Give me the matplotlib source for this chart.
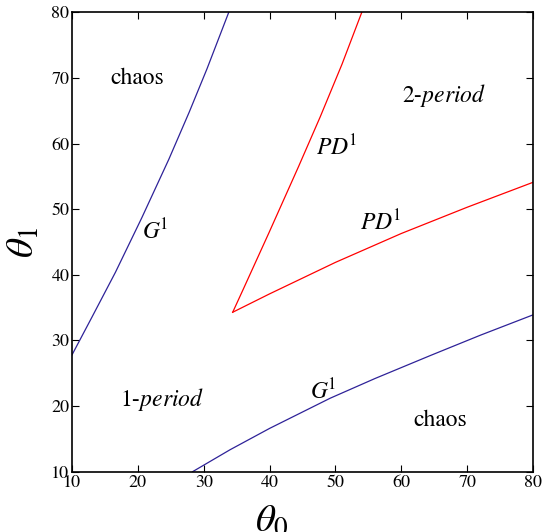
import numpy as np
import matplotlib.pyplot as plt

plt.rcParams['font.family'] = ['STIXGeneral', 'DejaVu Serif']
plt.rcParams['mathtext.fontset'] = 'stix'

# boundary curves (theta0, theta1)
g1_upper_x = [10, 13, 16.6, 20.6, 24.7, 27.8, 30.5, 33.8]
g1_upper_y = [27.8, 33.5, 40.4, 48.7, 57.6, 64.8, 71.4, 80]

g1_lower_x = [28.3, 34, 40, 49.2, 56, 64.4, 72, 80]
g1_lower_y = [10, 13.35, 16.6, 21.2, 24.2, 27.7, 30.8, 33.9]

pd_upper_x = [34.4, 36, 39.9, 44.4, 47.7, 51, 54]
pd_upper_y = [34.3, 37.8, 46.4, 56.5, 64.1, 72.1, 80]

pd_lower_x = [34.4, 40, 50, 60, 70, 80]
pd_lower_y = [34.3, 37.1, 41.9, 46.3, 50.3, 54.1]

ticks = [10, 20, 30, 40, 50, 60, 70, 80]

blue = '#2e2298'
red = '#ff0000'

fig = plt.figure(figsize=(5.59, 5.32), dpi=100)
ax = fig.add_axes([0.1288, 0.1133, 0.8247, 0.8635])

ax.plot(g1_upper_x, g1_upper_y, color=blue, lw=0.9)
ax.plot(g1_lower_x, g1_lower_y, color=blue, lw=0.9)
ax.plot(pd_upper_x, pd_upper_y, color=red, lw=0.9)
ax.plot(pd_lower_x, pd_lower_y, color=red, lw=0.9)

ax.set_xlim(10, 80)
ax.set_ylim(10, 80)
ax.set_xticks(ticks)
ax.set_yticks(ticks)
ax.tick_params(direction='in', length=5, width=0.8, labelsize=13,
               top=True, right=True, pad=2)
for s in ax.spines.values():
    s.set_linewidth(1.2)

fs = 17
ax.text(15.8, 70, 'chaos', fontsize=fs, va='center', ha='left')
ax.text(61.8, 17.9, 'chaos', fontsize=fs, va='center', ha='left')
ax.text(17.3, 21.0, '1-' + r'$\mathit{period}$', fontsize=fs, va='center', ha='left')
ax.text(60.1, 67.3, '2-' + r'$\mathit{period}$', fontsize=fs, va='center', ha='left')
ax.text(47.1, 59.4, r'$PD^{\!\mathrm{1}}$', fontsize=fs, va='center', ha='left')
ax.text(53.7, 47.9, r'$PD^{\!\mathrm{1}}$', fontsize=fs, va='center', ha='left')
ax.text(20.6, 46.6, r'$G^{\!\mathrm{1}}$', fontsize=fs, va='center', ha='left')
ax.text(46.1, 22.2, r'$G^{\!\mathrm{1}}$', fontsize=fs, va='center', ha='left')

ax.set_xlabel(r'$\theta_0$', fontsize=28, labelpad=0)
ax.set_ylabel(r'$\theta_1$', fontsize=28, labelpad=0)
ax.xaxis.set_label_coords(0.434, -0.07)
ax.yaxis.set_label_coords(-0.066, 0.5)

fig.savefig('out.png', dpi=100)
